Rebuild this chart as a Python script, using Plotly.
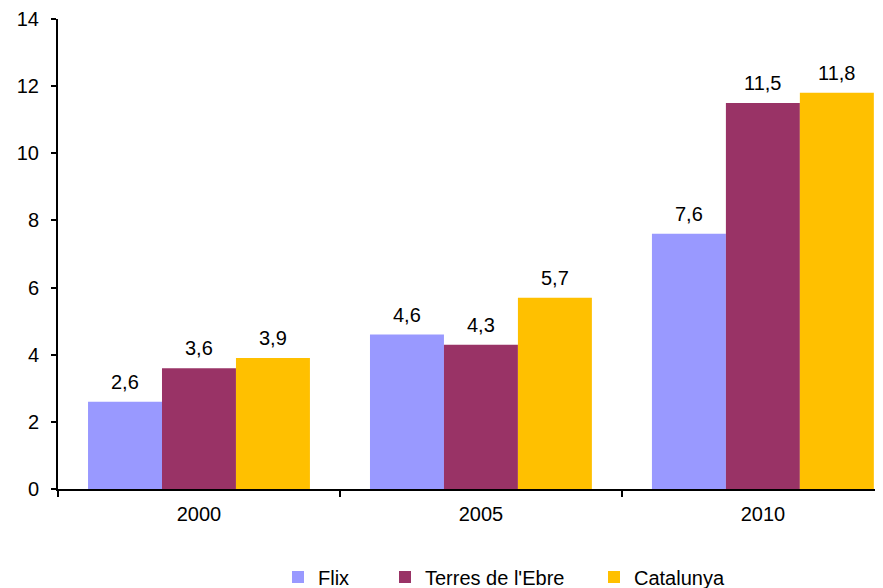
import plotly.graph_objects as go

years = ["2000", "2005", "2010"]
series_names = ["Flix", "Terres de l'Ebre", "Catalunya"]
flix = [2.6, 4.6, 7.6]
terres = [3.6, 4.3, 11.5]
catalunya = [3.9, 5.7, 11.8]
colors = ["#9999FF", "#993366", "#FFC000"]
y_ticks = [0, 2, 4, 6, 8, 10, 12, 14]

FONT = "Liberation Sans, Arial, sans-serif"
FS = 20
OFF = 8  # page body margin offset
W, H = 883 - OFF, 588 - OFF
ML, MT = 58 - OFF, 19 - OFF
MB = H - (489 - OFF)
plot_w = W - ML
BARGAP = 0.213
XMAX = 2.426
cat_px = plot_w / (XMAX + 0.5)
bar_px = cat_px * (1 - BARGAP) / 3

fig = go.Figure()
legends = ["legend", "legend2", "legend3"]
all_vals = [flix, terres, catalunya]
for name, vals, col, lg in zip(series_names, all_vals, colors, legends):
    fig.add_trace(go.Bar(
        x=years, y=vals, name=name, marker=dict(color=col, line=dict(width=0)),
        legend=lg,
    ))

annotations = []
for j, vals in enumerate(all_vals):
    for i, v in enumerate(vals):
        annotations.append(dict(
            x=i, y=v, xref="x", yref="y", text=f"{v:.1f}".replace(".", ","),
            showarrow=False, xanchor="center", yanchor="bottom",
            xshift=(j - 1) * bar_px, yshift=7,
            font=dict(family=FONT, size=FS, color="#000000"),
        ))

legend_px = [296, 403, 612]
leg_common = dict(orientation="h", yanchor="middle", y=-0.187, xanchor="left",
                  font=dict(family=FONT, size=FS, color="#000000"),
                  bgcolor="rgba(0,0,0,0)", borderwidth=0)
layout_legs = {}
for lg, px in zip(legends, legend_px):
    d = dict(leg_common)
    d["x"] = (px - 26 - ML) / plot_w
    layout_legs[lg] = d

fig.update_layout(
    width=W, height=H,
    margin=dict(l=ML, r=0, t=MT, b=MB, pad=0, autoexpand=False),
    plot_bgcolor="white", paper_bgcolor="white",
    barmode="group", bargap=BARGAP, bargroupgap=0,
    separators=", ",
    font=dict(family=FONT, size=FS, color="#000000"),
    showlegend=True,
    annotations=annotations,
    xaxis=dict(
        type="category", range=[-0.5, XMAX], automargin=False,
        showline=True, linecolor="#000000", linewidth=2,
        ticks="outside", tickson="boundaries", ticklen=6, tickcolor="#000000", tickwidth=1.5,
        showgrid=False, zeroline=False, ticklabelstandoff=6,
        tickfont=dict(family=FONT, size=FS, color="#000000"),
    ),
    yaxis=dict(
        range=[0, 14], tickvals=y_ticks, automargin=False,
        showline=True, linecolor="#000000", linewidth=2,
        ticks="outside", ticklen=5, tickcolor="#000000", tickwidth=1.5,
        showgrid=False, zeroline=False, ticklabelstandoff=8,
        tickfont=dict(family=FONT, size=FS, color="#000000"),
    ),
    **layout_legs,
)

fig.write_html("out.html")
